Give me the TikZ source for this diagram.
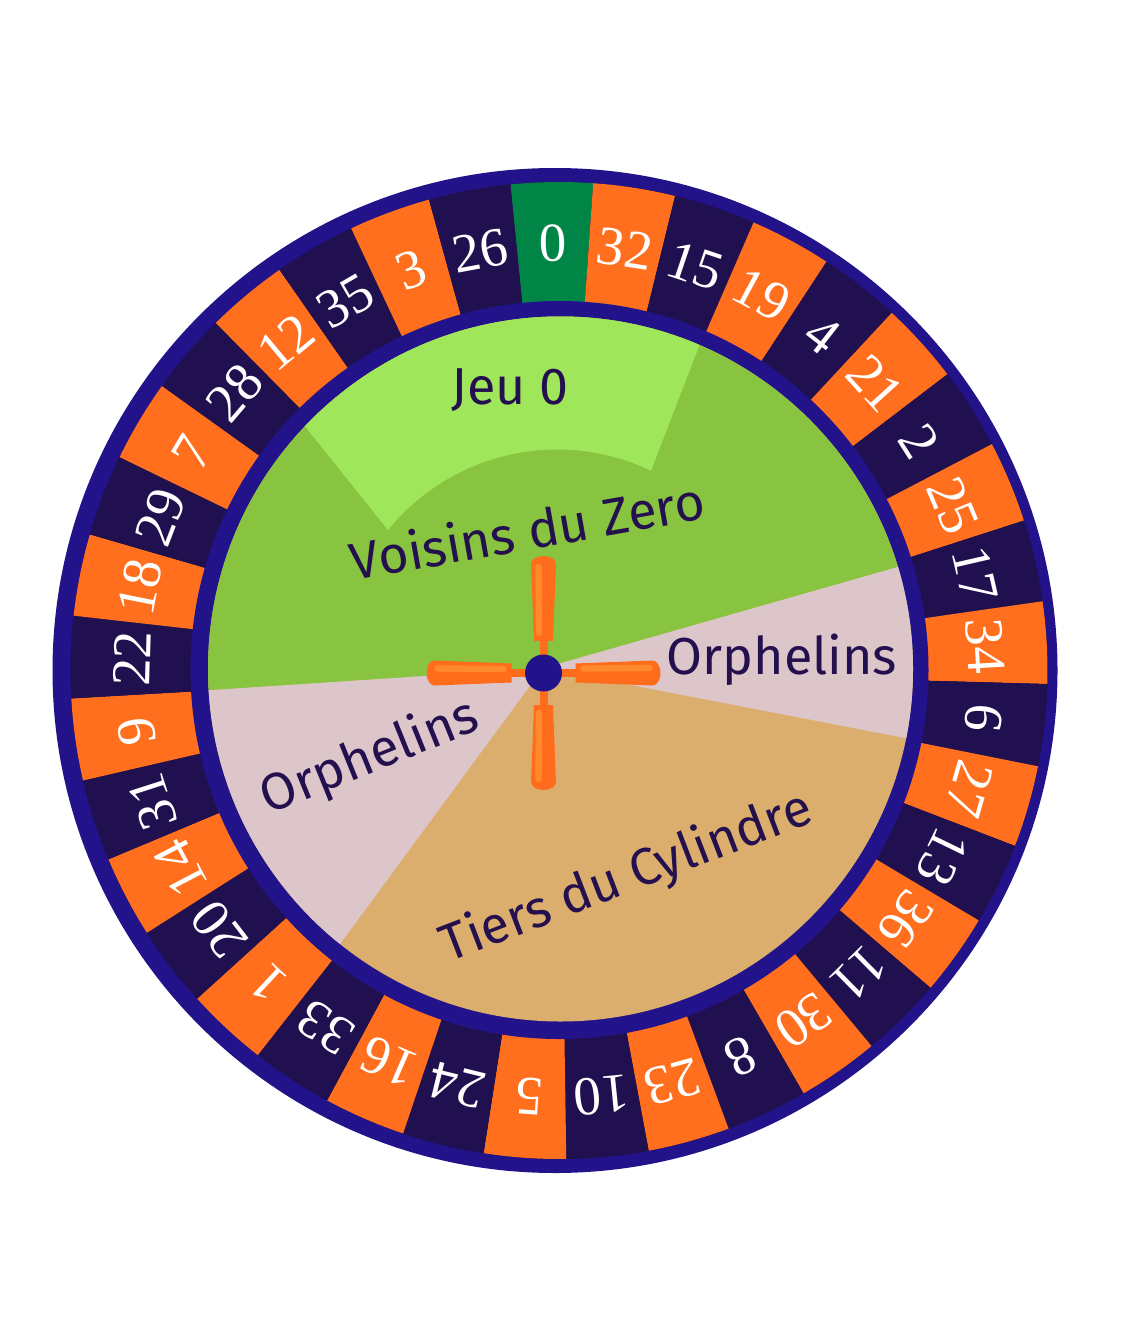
\documentclass[tikz,border=0pt]{standalone}
\usepackage{fontspec}
\setmainfont{Liberation Serif}
\newfontfamily\sectfont{Fira Sans}
\definecolor{ringblue}{HTML}{22138A}
\definecolor{pocketdark}{HTML}{21104F}
\definecolor{pocketorange}{HTML}{FF6F1D}
\definecolor{zerogreen}{HTML}{008547}
\definecolor{voisins}{HTML}{88C440}
\definecolor{jeu}{HTML}{A0E65A}
\definecolor{orph}{HTML}{DCC6CA}
\definecolor{tiers}{HTML}{DCAE6E}
\definecolor{textnavy}{HTML}{25104F}
\definecolor{armorange}{HTML}{FF6C1C}
\definecolor{armlight}{HTML}{FF8A2C}
\tikzset{
  numtext/.style={text=white, inner sep=0pt, font=\fontsize{27.5}{30}\selectfont},
  secttext/.style={text=textnavy, inner sep=0pt, font=\sectfont\fontsize{26}{30}\selectfont},
  armbody/.style={fill=armorange},
  armstripe/.style={draw=armlight, line width=3.2pt, line cap=round}
}
\begin{document}
\begin{tikzpicture}[x=0.5pt,y=-0.5pt]
\useasboundingbox (0,0) rectangle (1120,1337);
\fill[white] (0,0) rectangle (1120,1337);
% outer ring
\fill[ringblue] (555,670.5) circle[radius=502.5];
% pockets base
\fill[pocketdark] (559,670.5) circle[radius=488.5];
\foreach \n [count=\k from 0] in {0,32,15,19,4,21,2,25,17,34,6,27,13,36,11,30,8,23,10,5,24,16,33,1,20,14,31,9,22,18,29,7,28,12,35,3,26} {
  \pgfmathsetmacro\ang{-90+\k*360/37-0.85}
  \pgfmathsetmacro\a{\ang-180/37}
  \pgfmathsetmacro\b{\ang+180/37}
  \pgfmathtruncatemacro\parity{mod(\k,2)}
  \ifnum\k=0 \def\col{zerogreen}\else\ifnum\parity=1 \def\col{pocketorange}\else\def\col{pocketdark}\fi\fi
  \fill[\col] ([shift={(\a:488.5)}]559,670.5) arc[start angle=\a, end angle=\b, radius=488.5]
     -- ([shift={(\b:368)}]559,670.5) arc[start angle=\b, end angle=\a, radius=368] -- cycle;
  \pgfmathsetmacro\rot{-(\k*360/37-0.85)}
  \node[numtext, rotate=\rot] (p\k) at ([shift={(\ang:427)}]559,670.5) {\n};
}
% inner ring
\fill[ringblue] (559.5,670) circle[radius=369];
% inner disc sectors
\begin{scope}
\clip (560.5,669) circle[radius=352.5];
\fill[tiers] (0,0) rectangle (1120,1337);
\fill[orph] (543,668) -- (1267,808) -- (1251,466) -- cycle;
\fill[orph] (543,668) -- (143,1212) -- (-123,712) -- cycle;
\fill[voisins] (543,668) -- (-123,712) -- (-123,0) -- (1251,0) -- (1251,466) -- cycle;
\fill[jeu] (260,370) -- (388,530) arc[start angle=-140.9, end angle=-64.5, radius=218] -- (720,292) -- (720,250) -- (260,250) -- cycle;
\end{scope}
% labels
\node[secttext] (jeu0) at (510,390) {Jeu 0};
\node[secttext, rotate=10] (vz) at (527,530) {Voisins du Zero};
\node[secttext] (orR) at (782,660) {Orphelins};
\node[secttext, rotate=22] (orL) at (370,758) {Orphelins};
\node[secttext, rotate=21] (tc) at (627,878) {Tiers du Cylindre};
% spinner
\begin{scope}[shift={(543.5,673)}]
  \fill[armorange] (-4,-36) rectangle (4,36);
  \fill[armorange] (-36,-4) rectangle (36,4);
  \foreach \r in {0,-90,180,90} {
    \begin{scope}[rotate=\r]
      \fill[armbody] (-9.5,-32) -- (-12.5,-109) arc[start angle=180, end angle=360, x radius=12.5, y radius=8] -- (9.5,-32) -- cycle;
    \end{scope}
  }
  \draw[armstripe] (-5,-106) -- (-4.5,-40);
  \draw[armstripe] (106,-5) -- (40,-4.5);
  \draw[armstripe] (-106,-4.5) -- (-40,-4);
  \draw[armstripe] (-5,106) -- (-4.5,40);
  \fill[ringblue] (0,0) circle[radius=18.5];
  \coordinate (hub) at (0,0);
\end{scope}
\end{tikzpicture}
\end{document}
